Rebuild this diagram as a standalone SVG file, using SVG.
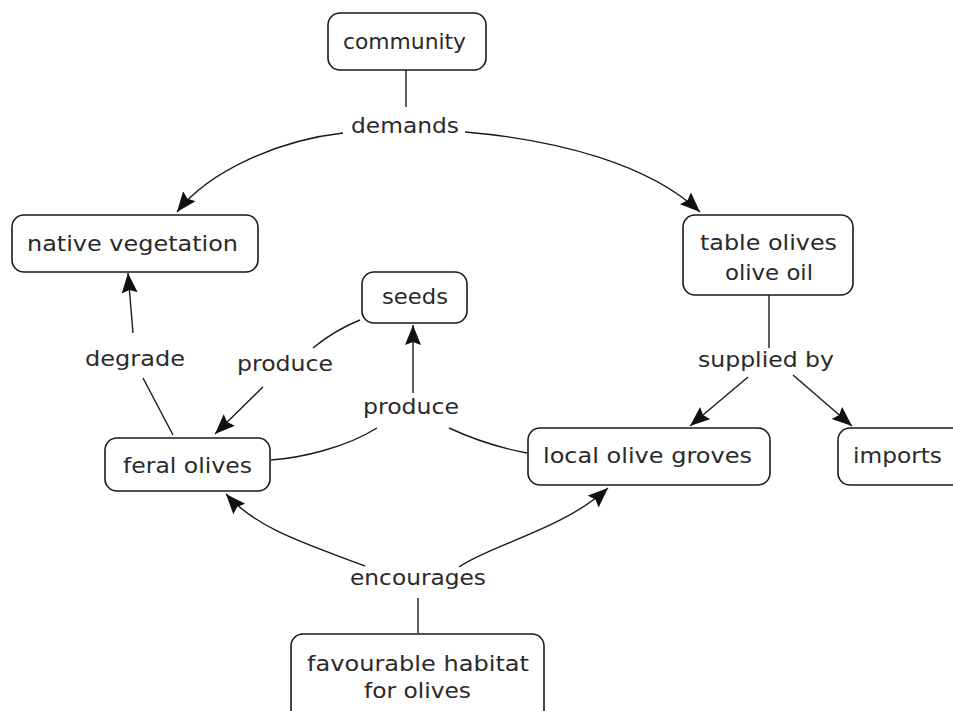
<svg xmlns="http://www.w3.org/2000/svg" width="953" height="711" viewBox="0 0 953 711">
<style>
.box{fill:#fff;stroke:#1a1a1a;stroke-width:1.6}
.t{font-family:"DejaVu Sans","Verdana",sans-serif;font-size:22px;fill:#2a2a2a;text-anchor:start}
.c{fill:none;stroke:#1a1a1a;stroke-width:1.4}
</style>
<defs>
<marker id="ah" markerUnits="userSpaceOnUse" markerWidth="22" markerHeight="18" refX="20" refY="8" orient="auto">
<path d="M0,0 L20,8 L0,16 L3,8 z" fill="#111"/>
</marker>
</defs>
<rect width="953" height="711" fill="#fff"/>
<g id="connectors">
<path class="c" d="M406,70 L406,107"/>
<path class="c" d="M343,133 C280,140 210,170 177,212" marker-end="url(#ah)"/>
<path class="c" d="M465,132 C560,140 650,165 700,212" marker-end="url(#ah)"/>
<path class="c" d="M173,435 L143,378"/>
<path class="c" d="M133,333 L128,273" marker-end="url(#ah)"/>
<path class="c" d="M360,320 C340,328 325,338 313,348"/>
<path class="c" d="M263,387 L215,434" marker-end="url(#ah)"/>
<path class="c" d="M271,460 C300,458 345,448 377,428"/>
<path class="c" d="M449,428 C475,440 500,448 527,453"/>
<path class="c" d="M413,393 L413,325" marker-end="url(#ah)"/>
<path class="c" d="M769,295 L769,348"/>
<path class="c" d="M748,377 L690,426" marker-end="url(#ah)"/>
<path class="c" d="M793,375 L852,426" marker-end="url(#ah)"/>
<path class="c" d="M418,633 L418,598"/>
<path class="c" d="M365,566 C310,545 258,530 226,494" marker-end="url(#ah)"/>
<path class="c" d="M459,567 C490,545 562,530 608,488" marker-end="url(#ah)"/>
</g>
<g id="labels">
<text class="t" x="351" y="133" textLength="108" lengthAdjust="spacingAndGlyphs">demands</text>
<text class="t" x="85" y="366" textLength="100" lengthAdjust="spacingAndGlyphs">degrade</text>
<text class="t" x="237" y="371" textLength="96" lengthAdjust="spacingAndGlyphs">produce</text>
<text class="t" x="363" y="414" textLength="96" lengthAdjust="spacingAndGlyphs">produce</text>
<text class="t" x="698" y="367" textLength="136" lengthAdjust="spacingAndGlyphs">supplied by</text>
<text class="t" x="350" y="585" textLength="136" lengthAdjust="spacingAndGlyphs">encourages</text>
</g>
<g id="community">
<rect class="box" x="328" y="13" width="158" height="57" rx="12"/>
<text class="t" x="343" y="49" textLength="123" lengthAdjust="spacingAndGlyphs">community</text>
</g>
<g id="native-vegetation">
<rect class="box" x="12" y="215" width="246" height="57" rx="12"/>
<text class="t" x="27" y="251" textLength="211" lengthAdjust="spacingAndGlyphs">native vegetation</text>
</g>
<g id="table-olives">
<rect class="box" x="683" y="215" width="170" height="80" rx="12"/>
<text class="t" x="700" y="250" textLength="137" lengthAdjust="spacingAndGlyphs">table olives</text>
<text class="t" x="725" y="280" textLength="88" lengthAdjust="spacingAndGlyphs">olive oil</text>
</g>
<g id="seeds">
<rect class="box" x="362" y="272" width="105" height="51" rx="12"/>
<text class="t" x="382" y="304" textLength="66" lengthAdjust="spacingAndGlyphs">seeds</text>
</g>
<g id="feral-olives">
<rect class="box" x="105" y="438" width="165" height="53" rx="12"/>
<text class="t" x="123" y="473" textLength="129" lengthAdjust="spacingAndGlyphs">feral olives</text>
</g>
<g id="local-olive-groves">
<rect class="box" x="528" y="428" width="242" height="57" rx="12"/>
<text class="t" x="543" y="463" textLength="209" lengthAdjust="spacingAndGlyphs">local olive groves</text>
</g>
<g id="imports">
<rect class="box" x="838" y="428" width="130" height="57" rx="12"/>
<text class="t" x="853" y="463" textLength="89" lengthAdjust="spacingAndGlyphs">imports</text>
</g>
<g id="favourable-habitat">
<rect class="box" x="291" y="634" width="253" height="90" rx="12"/>
<text class="t" x="307" y="671" textLength="222" lengthAdjust="spacingAndGlyphs">favourable habitat</text>
<text class="t" x="364" y="698" textLength="107" lengthAdjust="spacingAndGlyphs">for olives</text>
</g>
</svg>
